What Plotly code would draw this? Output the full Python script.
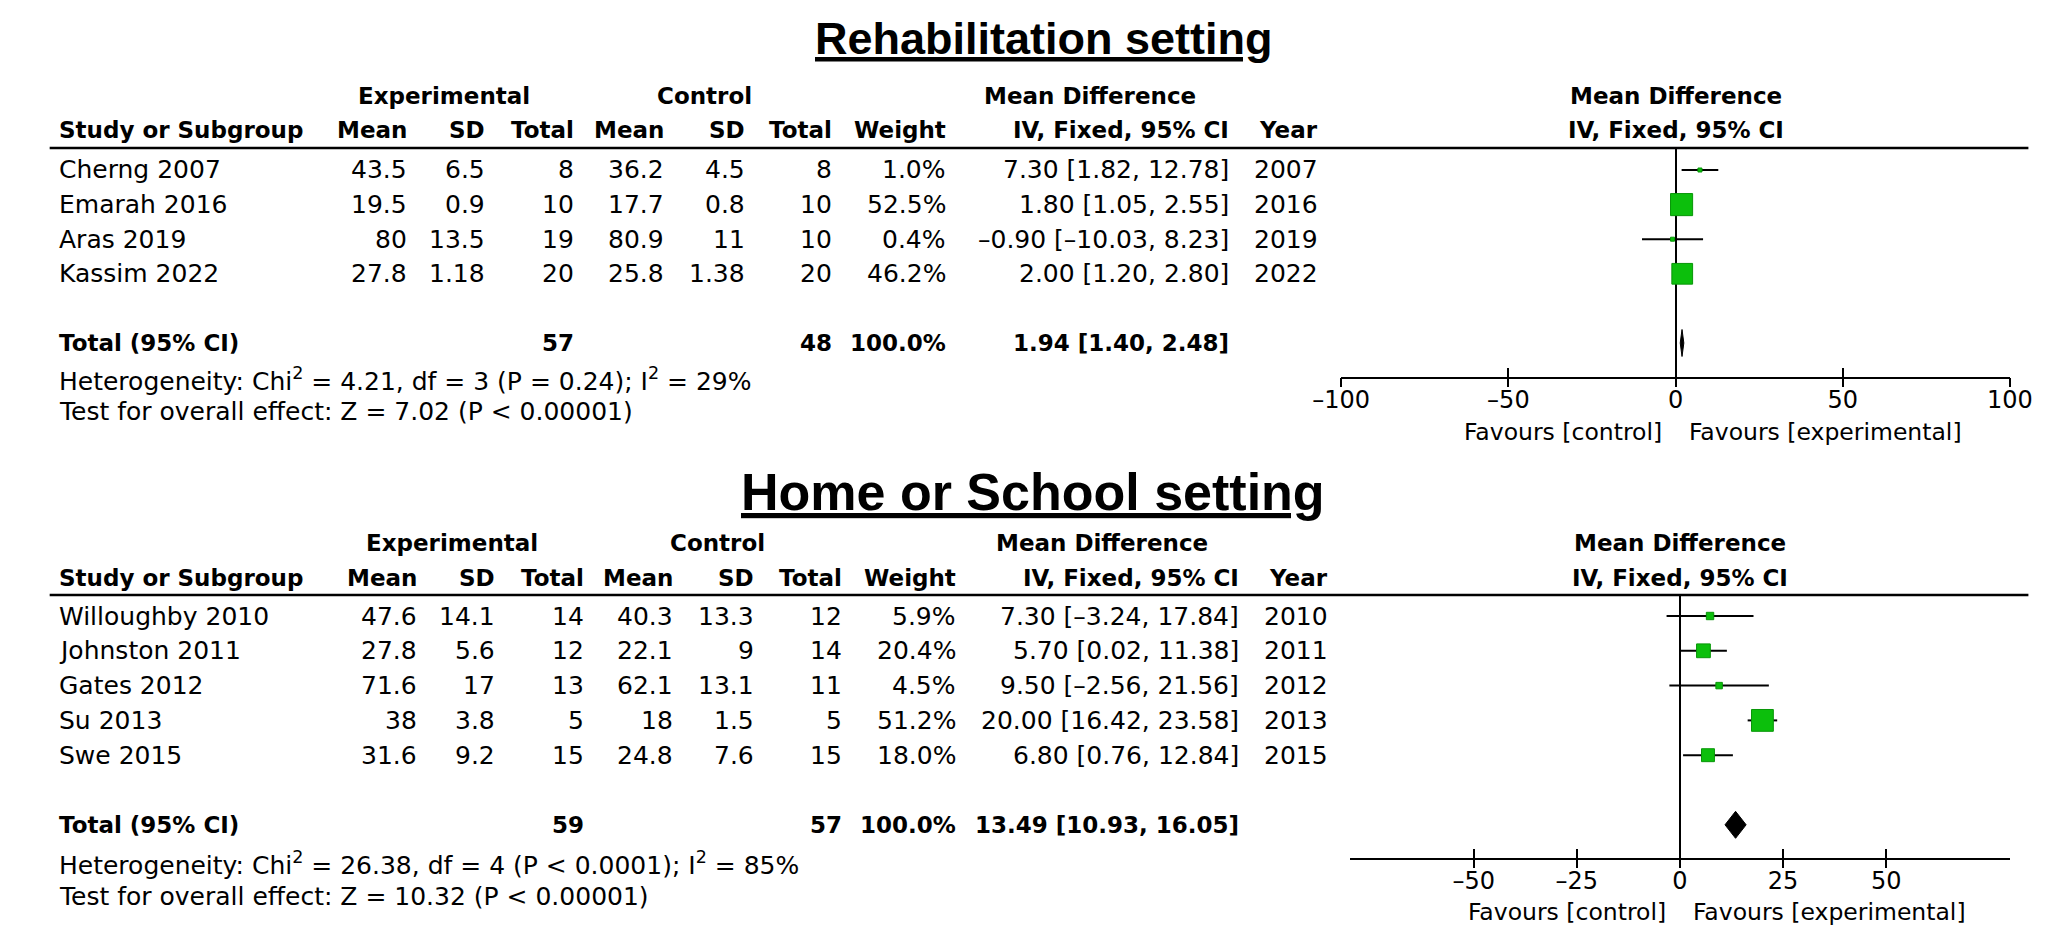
import plotly.graph_objects as go

W, H = 2059, 934

# ---------------- data: Rehabilitation setting ----------------
rehab_study = ["Cherng 2007", "Emarah 2016", "Aras 2019", "Kassim 2022"]
rehab_exp_mean = [43.5, 19.5, 80, 27.8]
rehab_exp_sd = [6.5, 0.9, 13.5, 1.18]
rehab_exp_n = [8, 10, 19, 20]
rehab_ctl_mean = [36.2, 17.7, 80.9, 25.8]
rehab_ctl_sd = [4.5, 0.8, 11, 1.38]
rehab_ctl_n = [8, 10, 10, 20]
rehab_weight = [1.0, 52.5, 0.4, 46.2]
rehab_md = [7.30, 1.80, -0.90, 2.00]
rehab_lo = [1.82, 1.05, -10.03, 1.20]
rehab_hi = [12.78, 2.55, 8.23, 2.80]
rehab_year = [2007, 2016, 2019, 2022]
rehab_total_n = [57, 48]
rehab_total_ci = [1.94, 1.40, 2.48]
rehab_het = "Heterogeneity: Chi<sup>2</sup> = 4.21, df = 3 (P = 0.24); I<sup>2</sup> = 29%"
rehab_test = "Test for overall effect: Z = 7.02 (P < 0.00001)"
rehab_ticks = [-100, -50, 0, 50, 100]
rehab_range = [-100, 100]

# ---------------- data: Home or School setting ----------------
home_study = ["Willoughby 2010", "Johnston 2011", "Gates 2012", "Su 2013", "Swe 2015"]
home_exp_mean = [47.6, 27.8, 71.6, 38, 31.6]
home_exp_sd = [14.1, 5.6, 17, 3.8, 9.2]
home_exp_n = [14, 12, 13, 5, 15]
home_ctl_mean = [40.3, 22.1, 62.1, 18, 24.8]
home_ctl_sd = [13.3, 9, 13.1, 1.5, 7.6]
home_ctl_n = [12, 14, 11, 5, 15]
home_weight = [5.9, 20.4, 4.5, 51.2, 18.0]
home_md = [7.30, 5.70, 9.50, 20.00, 6.80]
home_lo = [-3.24, 0.02, -2.56, 16.42, 0.76]
home_hi = [17.84, 11.38, 21.56, 23.58, 12.84]
home_year = [2010, 2011, 2012, 2013, 2015]
home_total_n = [59, 57]
home_total_ci = [13.49, 10.93, 16.05]
home_het = "Heterogeneity: Chi<sup>2</sup> = 26.38, df = 4 (P < 0.0001); I<sup>2</sup> = 85%"
home_test = "Test for overall effect: Z = 10.32 (P < 0.00001)"
home_ticks = [-50, -25, 0, 25, 50]
home_range = [-80, 80]

col_headers = ["Mean", "SD", "Total", "Mean", "SD", "Total", "Weight", "IV, Fixed, 95% CI", "Year"]

REG = "DejaVu Sans"
FS = 25
FSB = 23
GREEN = "#0cbf0c"
GREEN_EDGE = "#089608"
DASH = "\u2013"


def num(v):
    return f"{v:g}".replace("-", DASH)


def ci_txt(m, lo, hi):
    return f"{m:.2f} [{lo:.2f}, {hi:.2f}]".replace("-", DASH)


def px(x):
    return x / W


def py(y):
    return 1 - y / H


fig = go.Figure()
annotations = []
shapes = []


def txt(x, y, s, anchor="right", bold=False, size=None, family=REG, xref="paper"):
    annotations.append(dict(
        x=px(x) if xref == "paper" else x, y=py(y), xref=xref, yref="paper",
        text=s, showarrow=False, xanchor=anchor, yanchor="middle",
        font=dict(family=family, size=size or (FSB if bold else FS), color="black",
                  weight="bold" if bold else "normal"),
    ))


def panel(g, study, em, esd, en, cm, csd, cn, wt, md, lo, hi, yr, tot_n, tot_ci, het, test,
          ticks, xrange, xa, ya, xa_in, xa_out):
    xs_id = xa.replace("axis", "")
    ys_id = ya.replace("axis", "")
    # title
    annotations.append(dict(
        x=px(g["title_x"]), y=py(g["title_y"]), xref="paper", yref="paper",
        text="<u>" + g["title"] + "</u>", showarrow=False, xanchor="center", yanchor="middle",
        font=dict(family="Liberation Sans", size=g["title_size"], color="black", weight="bold"),
    ))
    c = g["cols"]
    # headers
    txt(g["grp"][0], g["h1"], "Experimental", "center", True)
    txt(g["grp"][1], g["h1"], "Control", "center", True)
    txt(g["grp"][2], g["h1"], "Mean Difference", "center", True)
    txt(0.5, g["h1"], "Mean Difference", "center", True, xref=xs_id + " domain")
    txt(c[0], g["h2"], "Study or Subgroup", "left", True)
    for k, h in enumerate(col_headers):
        txt(c[k + 1], g["h2"], h, "right", True)
    txt(0.5, g["h2"], "IV, Fixed, 95% CI", "center", True, xref=xs_id + " domain")
    # rule under the header
    shapes.append(dict(type="line", xref="paper", yref="paper", x0=px(13), x1=px(2043),
                       y0=py(g["rule"]), y1=py(g["rule"]), line=dict(color="black", width=2.5)))
    # study rows
    rows = list(range(len(study)))
    for i in rows:
        y = g["row0"] + g["step"] * i
        vals = [num(em[i]), num(esd[i]), str(en[i]), num(cm[i]), num(csd[i]), str(cn[i]),
                f"{wt[i]:.1f}%", ci_txt(md[i], lo[i], hi[i]), str(yr[i])]
        txt(c[0], y, study[i], "left")
        for k, v in enumerate(vals):
            txt(c[k + 1], y, v, "right")
    ti = g["total_idx"]
    yt = g["row0"] + g["step"] * ti
    txt(c[0], yt, "Total (95% CI)", "left", True)
    txt(c[3], yt, str(tot_n[0]), "right", True)
    txt(c[6], yt, str(tot_n[1]), "right", True)
    txt(c[7], yt, "100.0%", "right", True)
    txt(c[8], yt, ci_txt(*tot_ci), "right", True)
    txt(c[0], g["het"], het, "left")
    txt(c[0], g["test"], test, "left")

    # forest plot: CI whiskers, weighted squares, pooled diamond
    xs, ys = [], []
    for i in rows:
        xs += [lo[i], hi[i], None]
        ys += [i, i, None]
    fig.add_trace(go.Scatter(x=xs, y=ys, mode="lines", line=dict(color="black", width=2),
                             xaxis=xs_id, yaxis=ys_id, hoverinfo="skip", showlegend=False))
    sizes = [max(4, 3.05 * w ** 0.5) for w in wt]
    fig.add_trace(go.Scatter(x=md, y=rows, mode="markers",
                             marker=dict(symbol="square", size=sizes, color=GREEN, opacity=1,
                                         line=dict(color=GREEN_EDGE, width=1)),
                             xaxis=xs_id, yaxis=ys_id, hoverinfo="skip", showlegend=False))
    hd = 13.5 / g["step"]
    m, l, h_ = tot_ci
    fig.add_trace(go.Scatter(x=[l, m, h_, m, l], y=[ti, ti - hd, ti, ti + hd, ti], mode="lines",
                             fill="toself", fillcolor="black", line=dict(color="black", width=1),
                             xaxis=xs_id, yaxis=ys_id, hoverinfo="skip", showlegend=False))
    # invisible traces so the overlay tick axes are drawn
    for xo in (xa_in, xa_out):
        fig.add_trace(go.Scatter(x=[0], y=[0], mode="markers", marker=dict(opacity=0),
                                 xaxis=xo.replace("axis", ""), yaxis=ys_id,
                                 hoverinfo="skip", showlegend=False))
    # favours labels either side of the null line
    for s, anc, sh in (("Favours [control]", "right", -12), ("Favours [experimental]", "left", 11)):
        annotations.append(dict(x=0, y=py(g["fav"]), xref=xs_id, yref="paper",
                                text=s, showarrow=False, xanchor=anc, yanchor="middle", xshift=sh,
                                font=dict(family=REG, size=23.5, color="black")))

    y_top = (g["rule"] - g["row0"]) / g["step"]
    y_bot = (g["axis"] - g["row0"]) / g["step"]
    dom_x = [px(g["fx"][0]), px(g["fx"][1])]
    dom_y = [py(g["axis"]), py(g["rule"])]
    ticktext = [num(t) for t in ticks]
    tick_common = dict(overlaying=xs_id, range=xrange, anchor=ys_id, showgrid=False,
                       zeroline=False, showline=False, tickmode="array", tickvals=ticks,
                       ticklen=9, tickwidth=2, tickcolor="black", showticklabels=False,
                       fixedrange=True)
    fig.update_layout(**{
        xa: dict(domain=dom_x, range=xrange, anchor=ys_id, showgrid=False,
                 zeroline=True, zerolinecolor="black", zerolinewidth=2,
                 showline=True, linecolor="black", linewidth=2,
                 tickmode="array", tickvals=ticks, ticktext=ticktext, ticks="",
                 tickfont=dict(family=REG, size=24, color="black"), fixedrange=True),
        xa_in: dict(ticks="inside", **tick_common),
        xa_out: dict(ticks="outside", **tick_common),
        ya: dict(domain=dom_y, range=[y_bot, y_top], visible=False, showgrid=False,
                 zeroline=False, fixedrange=True),
    })


G1 = dict(title="Rehabilitation setting", title_x=1033, title_y=30, title_size=45,
          h1=88, h2=122, rule=140, row0=162, step=34.6, total_idx=5, het=371, test=404,
          axis=369, fav=424,
          cols=[21, 382, 462, 553, 645, 728, 818, 935, 1225, 1316],
          grp=[418, 685, 1080], fx=[1338, 2024])
G2 = dict(title="Home or School setting", title_x=1022, title_y=484, title_size=52,
          h1=535, h2=570, rule=587, row0=608, step=34.8, total_idx=6, het=855, test=888,
          axis=850, fav=904,
          cols=[21, 392, 472, 563, 655, 738, 828, 945, 1235, 1326],
          grp=[426, 698, 1093], fx=[1347, 2024])

panel(G1, rehab_study, rehab_exp_mean, rehab_exp_sd, rehab_exp_n, rehab_ctl_mean, rehab_ctl_sd,
      rehab_ctl_n, rehab_weight, rehab_md, rehab_lo, rehab_hi, rehab_year, rehab_total_n,
      rehab_total_ci, rehab_het, rehab_test, rehab_ticks, rehab_range,
      "xaxis", "yaxis", "xaxis3", "xaxis5")
panel(G2, home_study, home_exp_mean, home_exp_sd, home_exp_n, home_ctl_mean, home_ctl_sd,
      home_ctl_n, home_weight, home_md, home_lo, home_hi, home_year, home_total_n,
      home_total_ci, home_het, home_test, home_ticks, home_range,
      "xaxis2", "yaxis2", "xaxis4", "xaxis6")

fig.update_layout(width=W, height=H, autosize=False,
                  margin=dict(l=0, r=0, t=0, b=0, pad=0),
                  paper_bgcolor="white", plot_bgcolor="white",
                  annotations=annotations, shapes=shapes, showlegend=False)

fig.write_html("out.html")
